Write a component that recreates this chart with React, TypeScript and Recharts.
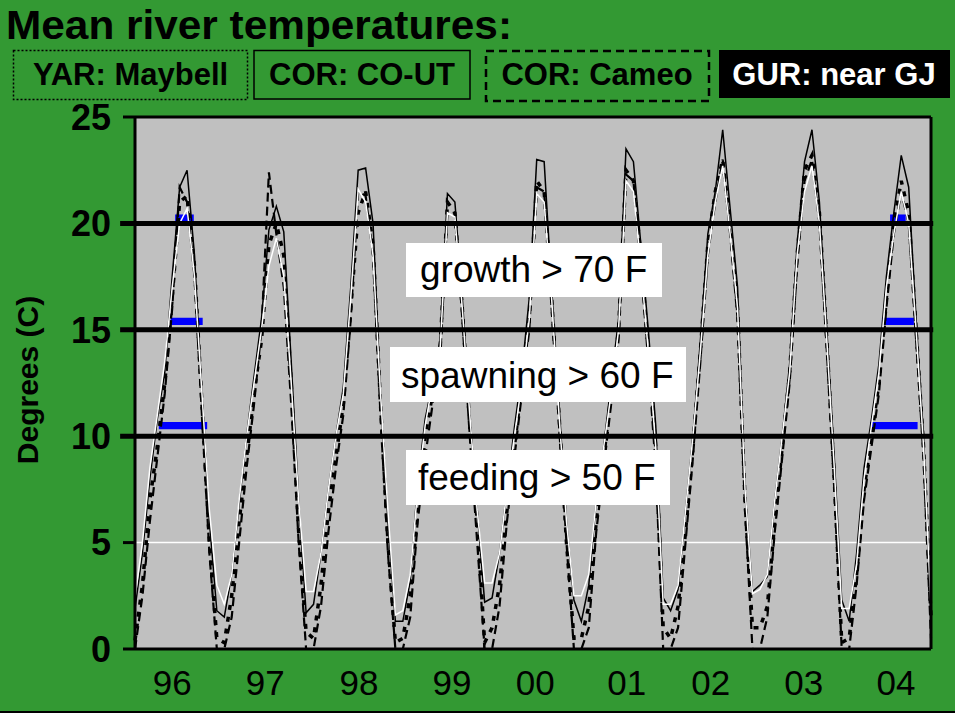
import {
  LineChart,
  Line,
  XAxis,
  YAxis,
  CartesianGrid,
  ReferenceLine,
  ReferenceArea,
} from "recharts";

// Monthly mean temperatures (deg C), Jan 1996 .. Dec 2004, one row per year.
const corCoUt = [
  1.9, 4.5, 8.0, 10.8, 13.0, 17.5, 21.7, 22.5, 18.5, 12.0, 6.0, 1.8,
  1.5, 3.5, 6.8, 10.0, 12.8, 15.5, 19.7, 20.8, 19.6, 13.5, 7.0, 1.7,
  2.1, 4.5, 7.5, 10.0, 12.3, 17.0, 22.5, 22.6, 20.0, 12.0, 6.0, 1.3,
  1.3, 3.2, 7.8, 10.8, 12.5, 14.5, 21.4, 21.0, 16.5, 11.0, 6.5, 2.2,
  2.4, 4.5, 7.5, 10.4, 13.0, 16.5, 23.0, 22.9, 17.0, 11.5, 6.0, 2.3,
  1.3, 3.0, 7.0, 9.5, 12.5, 15.5, 23.5, 22.9, 19.0, 15.0, 10.5, 2.4,
  1.8, 2.8, 6.5, 10.0, 14.5, 19.5, 21.5, 24.4, 20.7, 17.0, 7.5, 2.7,
  3.0, 3.4, 7.0, 10.0, 13.4, 19.0, 22.9, 24.4, 21.0, 15.0, 9.0, 2.3,
  1.3, 4.5, 8.5, 10.8, 13.4, 17.5, 20.5, 23.2, 21.7, 15.5, 10.0, 1.5,
];
const gurNearGj = [
  2.4, 5.0, 8.5, 11.0, 13.5, 17.0, 20.0, 20.7, 17.5, 12.0, 6.5, 3.0,
  2.1, 3.5, 7.0, 10.0, 12.5, 15.0, 18.0, 19.3, 17.5, 12.5, 7.0, 2.7,
  2.7, 4.5, 7.5, 10.0, 12.0, 16.5, 21.6, 21.0, 18.5, 12.0, 6.5, 1.6,
  1.8, 3.5, 7.5, 10.5, 12.5, 14.0, 20.5, 20.3, 16.0, 11.0, 6.5, 3.1,
  3.1, 4.5, 7.5, 10.0, 12.5, 15.5, 21.4, 21.0, 16.5, 11.0, 6.0, 2.5,
  2.5, 3.5, 7.0, 9.5, 12.0, 15.0, 22.0, 21.5, 18.0, 14.0, 9.5, 2.1,
  2.1, 3.0, 6.5, 10.0, 14.0, 18.5, 21.0, 22.7, 19.5, 16.0, 7.5, 2.6,
  2.8, 3.5, 7.0, 10.0, 13.0, 18.5, 21.5, 22.7, 20.0, 14.5, 8.5, 1.9,
  1.9, 4.0, 8.0, 10.5, 13.0, 17.0, 19.5, 21.5, 20.0, 15.0, 9.5, 2.0,
];
const corCameo = [
  0.0, 2.5, 6.0, 9.0, 12.0, 16.0, 21.7, 21.0, 17.5, 11.0, 4.5, 0.0,
  0.0, 1.5, 5.0, 8.5, 11.5, 15.0, 22.4, 19.5, 17.0, 11.5, 5.0, 0.0,
  0.0, 2.0, 5.5, 8.5, 11.0, 15.5, 21.5, 21.3, 18.5, 11.0, 4.5, 0.0,
  0.0, 1.5, 6.0, 9.0, 11.5, 13.5, 20.5, 20.5, 15.5, 10.0, 5.0, 0.0,
  0.0, 2.0, 6.0, 9.0, 12.0, 15.0, 21.7, 21.5, 16.0, 10.5, 5.0, 0.0,
  0.0, 1.0, 5.5, 8.5, 11.5, 14.5, 22.3, 22.0, 18.0, 13.5, 8.5, 0.0,
  0.0, 1.0, 5.0, 9.0, 13.5, 18.5, 21.0, 23.0, 19.5, 15.5, 6.5, 0.0,
  0.0, 1.5, 5.5, 9.0, 12.5, 18.0, 22.0, 23.0, 20.0, 14.0, 7.5, 0.0,
  0.0, 3.0, 7.0, 9.5, 12.0, 16.0, 19.5, 21.5, 20.0, 14.5, 9.0, 0.5,
];
const yarMaybell = [
  0.4, 3.0, 7.0, 9.5, 12.5, 16.5, 21.0, 21.3, 18.0, 11.5, 5.0, 0.5,
  0.3, 2.5, 6.0, 9.0, 12.0, 14.5, 19.0, 20.0, 18.5, 12.5, 5.5, 0.8,
  0.5, 3.0, 6.5, 9.0, 11.5, 16.0, 20.5, 21.5, 19.0, 11.5, 5.0, 0.3,
  0.5, 2.5, 6.5, 10.0, 12.0, 14.0, 21.0, 20.5, 16.0, 10.5, 6.0, 0.3,
  1.0, 3.0, 6.5, 9.5, 12.5, 15.5, 22.0, 21.5, 16.5, 11.0, 5.0, 0.5,
  0.5, 2.0, 6.0, 9.0, 12.0, 15.0, 22.5, 22.0, 18.5, 14.0, 9.5, 1.0,
  0.5, 2.0, 5.5, 9.5, 14.0, 19.0, 21.5, 23.0, 20.0, 16.0, 7.0, 1.0,
  1.0, 2.0, 6.0, 9.5, 13.0, 18.5, 22.5, 23.2, 20.5, 14.5, 8.0, 0.3,
  0.5, 3.5, 7.5, 10.0, 12.5, 16.5, 20.0, 22.0, 20.5, 15.0, 9.5, 1.5,
];

const yearLabels = ["96", "97", "98", "99", "00", "01", "02", "03", "04"];
const yearTickPos = [5, 17.5, 30.1, 42.6, 53.8, 66.1, 77.4, 89.9, 102.3];
const yTicks = [0, 5, 10, 15, 20, 25];
const thresholds = [10, 15, 20];

// blue bars: months above each threshold in 1996 and 2004
const blueBars = [
  { x1: 5.4, x2: 7.9, y: 20.25 },
  { x1: 4.8, x2: 9.1, y: 15.4 },
  { x1: 3.2, x2: 9.7, y: 10.5 },
  { x1: 101.5, x2: 103.6, y: 20.25 },
  { x1: 100.4, x2: 104.7, y: 15.4 },
  { x1: 98.8, x2: 105.2, y: 10.5 },
];

const data = corCoUt.map((v, i) => ({
  m: i,
  corCoUt: v,
  gur: gurNearGj[i],
  cameo: corCameo[i],
  yar: yarMaybell[i],
}));

const FONT = "'Liberation Sans', Arial, Helvetica, sans-serif";

export default function App() {
  return (
    <div
      style={{
        position: "relative",
        width: 955,
        height: 713,
        background: "#339933",
        fontFamily: FONT,
        overflow: "hidden",
      }}
    >
      <style>{`body{margin:0}`}</style>
      <LineChart
        width={955}
        height={713}
        data={data}
        margin={{ top: 117, right: 24, bottom: 24, left: 75 }}
      >
        <CartesianGrid
          vertical={false}
          stroke="#ffffff"
          strokeWidth={1.5}
          fill="#c0c0c0"
          fillOpacity={1}
        />
        <XAxis
          dataKey="m"
          type="number"
          domain={[0, 107]}
          ticks={yearTickPos}
          interval={0}
          tickFormatter={(v: number) => yearLabels[yearTickPos.indexOf(v)] ?? ""}
          height={40}
          tickLine={false}
          tickSize={8}
          tickMargin={13}
          axisLine={{ stroke: "#000", strokeWidth: 3 }}
          tick={{ fontSize: 35, fill: "#000", fontFamily: FONT }}
        />
        <YAxis
          domain={[0, 25]}
          ticks={yTicks}
          interval={0}
          width={60}
          tickSize={12}
          tickMargin={12}
          axisLine={{ stroke: "#000", strokeWidth: 3 }}
          tickLine={{ stroke: "#000", strokeWidth: 3 }}
          tick={{ fontSize: 36, fill: "#000", fontWeight: "bold", fontFamily: FONT }}
        />
        <Line
          dataKey="yar"
          stroke="#000"
          strokeWidth={3.5}
          strokeDasharray="5 7"
          dot={false}
          isAnimationActive={false}
        />
        <Line
          dataKey="cameo"
          stroke="#000"
          strokeWidth={2.2}
          strokeDasharray="9 5"
          dot={false}
          isAnimationActive={false}
        />
        <Line
          dataKey="corCoUt"
          stroke="#000"
          strokeWidth={1.5}
          dot={false}
          isAnimationActive={false}
        />
        <Line
          dataKey="gur"
          stroke="#ffffff"
          strokeWidth={1.5}
          dot={false}
          isAnimationActive={false}
        />
        {thresholds.map((t) => (
          <ReferenceLine
            key={t}
            segment={[
              { x: -2, y: t },
              { x: 107.3, y: t },
            ]}
            ifOverflow="visible"
            stroke="#000"
            strokeWidth={5}
          />
        ))}
        <ReferenceLine y={25} stroke="#000" strokeWidth={3} />
        <ReferenceLine x={107} stroke="#000" strokeWidth={3} />
        {blueBars.map((b, i) => (
          <ReferenceArea
            key={i}
            x1={b.x1}
            x2={b.x2}
            y1={b.y - 0.17}
            y2={b.y + 0.17}
            fill="#0000ff"
            fillOpacity={1}
            stroke="none"
          />
        ))}
      </LineChart>

      <svg
        width={955}
        height={713}
        style={{ position: "absolute", left: 0, top: 0, pointerEvents: "none" }}
        fontFamily={FONT}
      >
        <text x={6} y={39} fontSize={41} fontWeight="bold" fill="#000" textLength={506} lengthAdjust="spacingAndGlyphs">
          Mean river temperatures:
        </text>

        <rect x={13.5} y={50.5} width={234} height={49} fill="none" stroke="#000" strokeWidth={1.5} strokeDasharray="2 2" />
        <text x={130.5} y={85} textAnchor="middle" fontSize={31} fontWeight="bold" fill="#000">
          YAR: Maybell
        </text>
        <rect x={254} y={50.5} width={216} height={48.5} fill="none" stroke="#000" strokeWidth={1.5} />
        <text x={362} y={85} textAnchor="middle" fontSize={31} fontWeight="bold" fill="#000">
          COR: CO-UT
        </text>
        <rect x={486} y={51} width={223} height={50} fill="none" stroke="#000" strokeWidth={2.5} strokeDasharray="8 5" />
        <text x={597} y={85} textAnchor="middle" fontSize={31} fontWeight="bold" fill="#000">
          COR: Cameo
        </text>
        <rect x={719} y={50} width={231} height={48} fill="#000" />
        <text x={834} y={85} textAnchor="middle" fontSize={31} fontWeight="bold" fill="#fff">
          GUR: near GJ
        </text>

        <text
          transform="translate(38,380) rotate(-90)"
          textAnchor="middle"
          fontSize={30}
          fontWeight="bold"
          fill="#000"
        >
          Degrees (C)
        </text>

        <rect x={406} y={243} width={256} height={54} fill="#fff" />
        <text x={420} y={282} fontSize={37} fill="#000">
          growth &gt; 70 F
        </text>
        <rect x={390} y={347} width={296} height={55} fill="#fff" />
        <text x={401} y={388} fontSize={37} fill="#000">
          spawning &gt; 60 F
        </text>
        <rect x={406} y={450} width={264} height={55} fill="#fff" />
        <text x={418} y={490} fontSize={37} fill="#000">
          feeding &gt; 50 F
        </text>

        <rect x={0} y={711} width={955} height={2} fill="#000" />
      </svg>
    </div>
  );
}
